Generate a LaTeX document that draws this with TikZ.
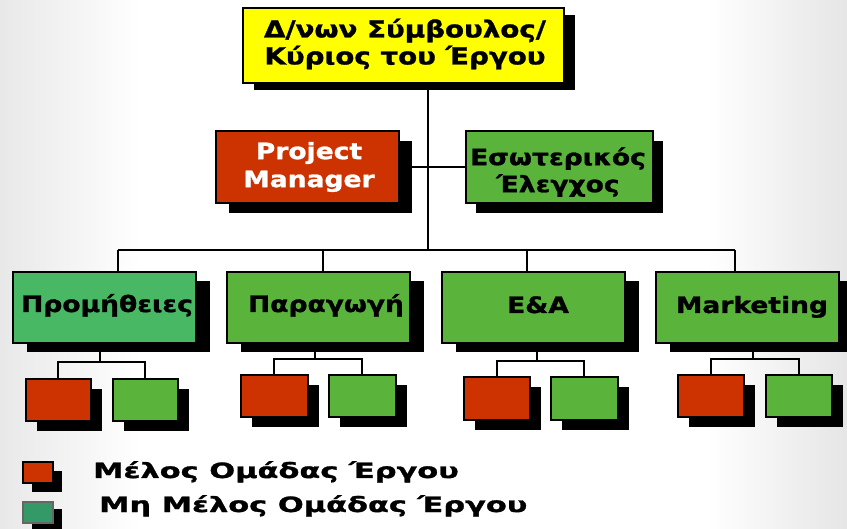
\documentclass[tikz,border=0pt]{standalone}
\usepackage{fontspec}
\setmainfont{DejaVu Sans}[FakeStretch=1.18, BoldFeatures={FakeBold=1.2}]
\newfontfamily\legfont{DejaVu Sans}[FakeStretch=1.45, BoldFeatures={FakeBold=1.4}]
\definecolor{myred}{HTML}{CC3300}
\definecolor{mygreen}{HTML}{5AB43C}
\definecolor{mytealg}{HTML}{48B864}
\definecolor{myyellow}{HTML}{FFFF00}
\definecolor{legteal}{HTML}{339966}
\tikzset{
  conn/.style={line width=2pt, black},
  bx/.style={draw=black, line width=1.8pt, inner sep=0pt, anchor=north west},
  lbl/.style={font=\fontsize{22.5}{28}\selectfont\bfseries, align=center, inner sep=0pt},
  lbone/.style={font=\fontsize{22.5}{28}\selectfont\bfseries, inner sep=0pt, anchor=base},
  leg/.style={font=\legfont\fontsize{21}{24}\selectfont\bfseries, inner sep=0pt, anchor=base west},
}
\newcommand\obox[8]{%
  \fill[black] (#2+#7,#3+#8) rectangle (#4+#7,#5+#8);
  \node[bx, fill=#6, minimum width={(#4-#2)*1pt}, minimum height={(#5-#3)*1pt}] (#1) at (#2,#3) {};
}
\begin{document}
\begin{tikzpicture}[x=1pt,y=-1pt]
\useasboundingbox (0,0) rectangle (847,529);
\fill[white] (0,0) rectangle (847,529);
\shade[left color=black!9, right color=white] (0,0) rectangle (140,529);
\shade[left color=white, right color=black!10] (707,0) rectangle (847,529);

% coordinates for connectors
\coordinate (trunk) at (428,250);
\coordinate (busL) at (118,250);
\coordinate (busR) at (735,250);
\coordinate (d1) at (118,250);
\coordinate (d2) at (323,250);
\coordinate (d3) at (527,250);
\coordinate (d4) at (735,250);
\coordinate (g1) at (100,362);
\coordinate (g2) at (315,359);
\coordinate (g3) at (537,361);
\coordinate (g4) at (753,359);

% top boxes
\obox{top}{242}{7}{563}{82}{myyellow}{12}{8}
\obox{pm}{215}{130}{398}{202}{myred}{14}{11}
\obox{eso}{465}{130}{652}{202}{mygreen}{11}{11}

% connectors top
\draw[conn] (trunk |- top.south) -- (trunk);
\draw[conn] (pm.east) -- (eso.west);
\draw[conn] (busL) -- (busR);

% level 2 boxes
\obox{p1}{12}{271}{195}{342}{mytealg}{15}{10}
\obox{p2}{226}{271}{409}{342}{mygreen}{15}{10}
\obox{p3}{441}{271}{624}{342}{mygreen}{15}{10}
\obox{p4}{655}{271}{838}{342}{mygreen}{15}{10}

\draw[conn] (d1) -- (d1 |- p1.north);
\draw[conn] (d2) -- (d2 |- p2.north);
\draw[conn] (d3) -- (d3 |- p3.north);
\draw[conn] (d4) -- (d4 |- p4.north);

% small boxes
\obox{r1}{25}{378}{90}{420}{myred}{12}{11}
\obox{s1}{112}{378}{177}{420}{mygreen}{12}{11}
\obox{r2}{240}{374}{307}{416}{myred}{12}{11}
\obox{s2}{328}{374}{395}{416}{mygreen}{12}{11}
\obox{r3}{463}{376}{529}{419}{myred}{12}{11}
\obox{s3}{550}{376}{617}{419}{mygreen}{12}{11}
\obox{r4}{677}{374}{743}{416}{myred}{12}{11}
\obox{s4}{765}{374}{831}{416}{mygreen}{12}{11}

\draw[conn] (g1 |- p1.south) -- (g1);
\draw[conn] (r1.north) -- (r1.north |- g1) -- (s1.north |- g1) -- (s1.north);
\draw[conn] (g2 |- p2.south) -- (g2);
\draw[conn] (r2.north) -- (r2.north |- g2) -- (s2.north |- g2) -- (s2.north);
\draw[conn] (g3 |- p3.south) -- (g3);
\draw[conn] (r3.north) -- (r3.north |- g3) -- (s3.north |- g3) -- (s3.north);
\draw[conn] (g4 |- p4.south) -- (g4);
\draw[conn] (r4.north) -- (r4.north |- g4) -- (s4.north |- g4) -- (s4.north);

% legend boxes
\obox{lr}{22}{461}{52}{482}{myred}{10}{10}
\fill[black] (32,509) rectangle (62,530);
\node[bx, draw=black!60, fill=legteal, minimum width=30pt, minimum height=21pt] (lg) at (22,501) {};

% texts
\node[lbl, font=\fontsize{23.5}{27}\selectfont\bfseries] (ttop) at (405,44) {Δ/νων Σύμβουλος/\\Κύριος του Έργου};
\node[lbl, text=white] (tpm) at (309,167) {Project\\Manager};
\node[lbl, font=\fontsize{22.5}{27}\selectfont\bfseries] (teso) at (558,172) {Εσωτερικός\\Έλεγχος};
\node[lbone] (t1) at (107,312) {Προμήθειες};
\node[lbone] (t2) at (326,312) {Παραγωγή};
\node[lbone] (t3) at (538,313) {E\&A};
\node[lbone] (t4) at (752,313) {Marketing};
\node[leg] (tl1) at (93,478) {Μέλος Ομάδας Έργου};
\node[leg] (tl2) at (99,512) {Μη Μέλος Ομάδας Έργου};
\end{tikzpicture}
\end{document}
